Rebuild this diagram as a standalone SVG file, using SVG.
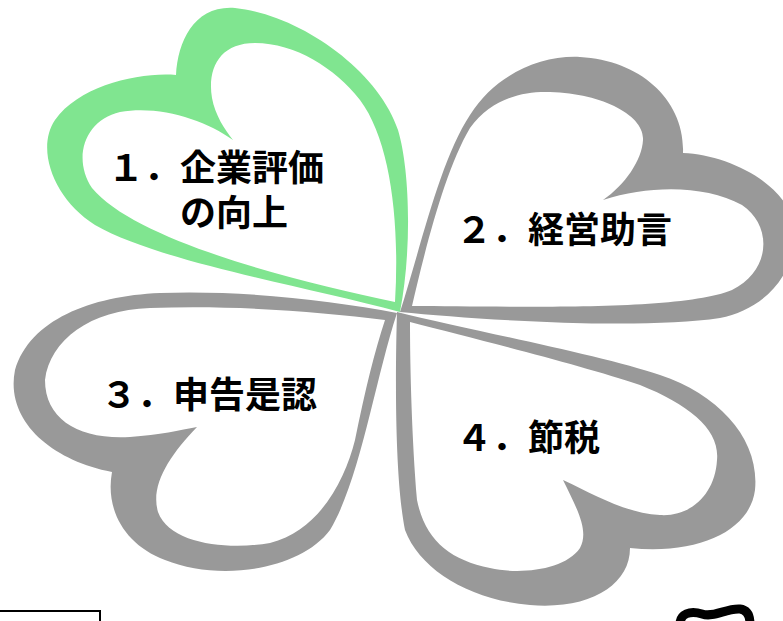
<svg xmlns="http://www.w3.org/2000/svg" width="783" height="621" viewBox="0 0 783 621">
<style>
.leaf{fill-rule:evenodd}
.gray{fill:#999999}
.green{fill:#80e590}
.lbl{font-family:"Noto Sans CJK JP","Noto Sans CJK SC",sans-serif;font-weight:bold;font-size:36px;fill:#000}
</style>
<rect width="783" height="621" fill="#ffffff"/>
<g id="leaf2">
<path class="leaf gray" d="M400,312 C420,250 440,160 470,115 C495,75 540,55 580,57 C640,60 685,100 683,153 C730,155 790,185 795,230 C795,280 760,310 720,318 C640,330 480,320 400,312 Z M412,306 C500,306 680,312 732,290 C772,270 772,225 742,205 C705,185 650,185 603,200 C625,185 642,160 643,140 C645,115 600,92 545,92 C520,92 490,100 470,128 C445,170 425,250 412,306 Z"/>
<text class="lbl" x="456" y="243">２．経営助言</text>
</g>
<g id="leaf3">
<path class="leaf gray" d="M397,313 C330,300 240,290 160,293 C90,296 30,320 15,370 C5,420 50,460 112,472 C105,510 125,545 165,560 C220,582 300,570 330,530 C360,480 375,380 397,313 Z M385,320 C375,350 365,390 355,440 C345,480 320,530 270,543 C230,550 170,545 158,512 C150,485 170,455 197,427 C180,430 160,435 130,437 C80,440 45,420 45,380 C50,340 90,310 150,308 C240,305 320,312 385,320 Z"/>
<text class="lbl" x="101" y="408">３．申告是認</text>
</g>
<g id="leaf4">
<path class="leaf gray" d="M397,312 C470,330 600,355 660,375 C720,395 760,440 755,490 C750,530 700,555 630,548 C630,585 590,610 530,605 C470,600 420,570 405,530 C395,480 395,380 397,312 Z M410,322 C410,370 412,440 417,500 C425,540 450,560 490,568 C520,575 565,570 580,548 C590,530 575,505 563,480 C595,495 625,513 660,515 C690,517 715,495 717,460 C720,430 690,405 640,385 C580,365 480,340 410,322 Z"/>
<text class="lbl" x="456" y="451">４．節税</text>
</g>
<g id="leaf1">
<path class="leaf green" d="M400,312 C412,250 410,170 398,130 C378,70 300,15 235,8 C195,5 178,40 176,75 C140,72 80,85 55,120 C35,150 55,200 95,225 C160,262 300,285 400,312 Z M395,302 C290,280 135,240 92,188 C72,158 85,120 120,112 C160,105 205,120 233,140 C225,130 215,115 212,98 C207,68 220,43 255,43 C295,43 335,68 360,100 C390,140 400,220 395,302 Z"/>
<text class="lbl"><tspan x="108" y="181">１．企業評価</tspan><tspan x="180" y="226">の向上</tspan></text>
</g>
<g id="box">
<rect x="-2" y="611" width="102" height="20" fill="none" stroke="#000" stroke-width="2"/>
</g>
<g id="brush">
<path d="M680,624 C680,614 690,610 702,614 C714,618 726,608 740,609 C748,610 750,617 750,624" fill="none" stroke="#000" stroke-width="9" stroke-linecap="round"/>
</g>
</svg>
